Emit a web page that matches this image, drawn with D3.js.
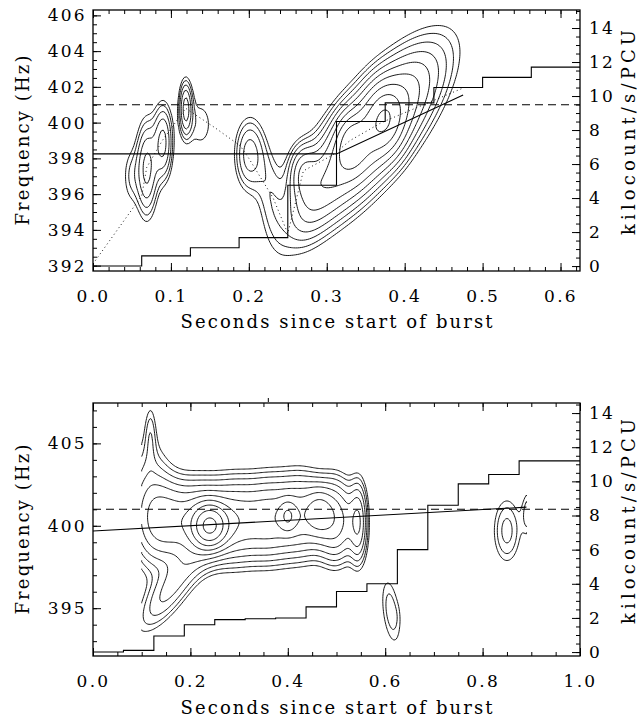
<!DOCTYPE html>
<html><head><meta charset="utf-8">
<script src="https://cdn.jsdelivr.net/npm/d3@7"></script>
<style>
body{margin:0;background:#fff}
text{font-family:"DejaVu Serif",serif;fill:#000}
</style>
</head><body>
<svg id="c" width="640" height="723"></svg>
<script>
// ---------------- DATA ----------------
const binWidth = 0.0625;
const contourLevels = [1, 1.41, 2, 2.83, 4, 5.66, 8, 11.3, 16, 22.6, 32];
const spinFreq = 401;

// top panel: count rate (kilocount/s/PCU) per 1/16 s bin
const topRate = [0, 0.6, 1.08, 1.67, 4.75, 8.5, 9.6, 10.5, 11.1, 11.7];
// frequency model (solid)
const topModelT = [0, 0.3125, 0.475];
const topModelF = [398.25, 398.25, 401.55];
// peak track (dotted)
const topTrackT = [0.0, 0.0625, 0.069, 0.089, 0.119, 0.157, 0.189, 0.2, 0.231, 0.25, 0.27, 0.308, 0.33, 0.37, 0.473];
const topTrackF = [392.1, 395.9, 397.5, 399.0, 400.8, 399.7, 398.7, 398.0, 395.8, 393.8, 397.3, 398.2, 399.0, 400.0, 401.9];
// power contour components (centre time, centre freq, width in t, width in f, drift Hz/s, strength)
const topCompT     = [0.069, 0.090, 0.048, 0.119, 0.138, 0.200, 0.226, 0.355, 0.270, 0.330, 0.375, 0.285];
const topCompF     = [397.4, 398.9, 397.0, 400.8, 399.9, 398.2, 396.3, 399.3, 397.2, 398.9, 400.2, 395.6];
const topCompSt    = [0.009, 0.008, 0.008, 0.0055, 0.014, 0.012, 0.014, 0.052, 0.012, 0.012, 0.015, 0.022];
const topCompSf    = [1.7, 1.35, 1.2, 1.0, 1.2, 1.3, 1.8, 1.8, 1.0, 1.0, 1.2, 1.3];
const topCompSlope = [0, 0, 0, 0, 0, 0, -60, 40, 0, 0, 0, 40];
const topCompAmp   = [4.4, 4.4, 1.3, 4.5, 1.3, 3.2, 1.6, 12, 4, 5, 6, 2];

// bottom panel
const botRate = [0, 0.1, 0.94, 1.6, 1.9, 1.95, 2.0, 2.65, 3.55, 4.0, 6.0, 8.6, 9.85, 10.4, 11.2, 11.2];
const botModelT = [0, 0.89];
const botModelF = [399.68, 401.13];
const botCompT     = [0.150, 0.220, 0.290, 0.360, 0.430, 0.500, 0.545, 0.240, 0.400, 0.465, 0.115, 0.118, 0.160, 0.612, 0.627, 0.850, 0.895];
const botCompF     = [400.3, 400.2, 400.3, 400.4, 400.6, 400.3, 400.2, 400.0, 400.6, 400.8, 401.5, 405.6, 396.2, 394.8, 394.6, 399.7, 400.8];
const botCompSt    = [0.035, 0.035, 0.035, 0.035, 0.035, 0.025, 0.012, 0.022, 0.012, 0.018, 0.028, 0.008, 0.045, 0.016, 0.006, 0.020, 0.010];
const botCompSf    = [1.55, 1.55, 1.55, 1.55, 1.55, 1.55, 1.55, 0.8, 0.6, 0.9, 2.6, 1.3, 1.1, 1.5, 0.6, 1.4, 1.0];
const botCompSlope = [0, 0, 0, 0, 0, 0, 0, 0, 0, 0, 0, 0, 30, -40, 0, 0, 0];
const botCompAmp   = [6, 6, 6, 6, 6, 6, 5, 18, 5, 5, 2.5, 1.3, 3, 1.75, 0.15, 2.3, 1.8];

// ---------------- DRAW ----------------
const svg = d3.select("#c");

function comps(T, F, St, Sf, Sl, A) {
  return T.map((t, i) => ({t, f: F[i], st: St[i], sf: Sf[i], slope: Sl[i], amp: A[i]}));
}

function ringToLines(ring, nx, ny) {
  const same = (a, b) => (a[0] <= 0 && b[0] <= 0) || (a[0] >= nx && b[0] >= nx) ||
                         (a[1] <= 0 && b[1] <= 0) || (a[1] >= ny && b[1] >= ny);
  const n = ring.length - 1;
  const segB = [];
  for (let i = 0; i < n; i++) segB.push(same(ring[i], ring[i + 1]));
  if (!segB.some(Boolean)) return [ring];
  const s = segB.findIndex(Boolean);
  const lines = []; let cur = null;
  for (let k = 1; k <= n; k++) {
    const i = (s + k) % n;
    if (segB[i]) { if (cur && cur.length > 1) lines.push(cur); cur = null; }
    else { if (!cur) cur = [ring[i]]; cur.push(ring[i + 1]); }
  }
  if (cur && cur.length > 1) lines.push(cur);
  return lines;
}

function panel(cfg) {
  const {left, right, top, bottom} = cfg.box;
  const g = svg.append("g");
  const x = d3.scaleLinear().domain(cfg.xDomain).range([left, right]);
  const y = d3.scaleLinear().domain(cfg.yDomain).range([bottom, top]);
  const y2 = d3.scaleLinear().domain(cfg.y2Domain).range([bottom, top]);

  const clipId = "clip" + cfg.id;
  svg.append("clipPath").attr("id", clipId).append("rect")
    .attr("x", left).attr("y", top).attr("width", right - left).attr("height", bottom - top);
  const plot = g.append("g").attr("clip-path", `url(#${clipId})`);

  // contour field
  const gr = cfg.grid;
  const nx = Math.round((gr.t1 - gr.t0) / gr.dt) + 1;
  const ny = Math.round((gr.f1 - gr.f0) / gr.df) + 1;
  const values = new Float64Array(nx * ny);
  for (let j = 0; j < ny; j++) {
    const f = gr.f0 + j * gr.df;
    for (let i = 0; i < nx; i++) {
      const t = gr.t0 + i * gr.dt;
      let s = 0;
      for (const c of cfg.comps) {
        const u = (t - c.t) / c.st;
        const v = (f - c.f - c.slope * (t - c.t)) / c.sf;
        s += c.amp * Math.exp(-0.5 * (u * u + v * v));
      }
      values[i + j * nx] = s;
    }
  }
  const cont = d3.contours().size([nx, ny]).thresholds(cfg.levels)(values);
  const toT = gx => gr.t0 + (Math.max(0.5, Math.min(nx - 0.5, gx)) - 0.5) * gr.dt;
  const toF = gy => gr.f0 + (Math.max(0.5, Math.min(ny - 0.5, gy)) - 0.5) * gr.df;
  const cline = d3.line().x(p => x(toT(p[0]))).y(p => y(toF(p[1])));
  const paths = [];
  cont.forEach(mp => mp.coordinates.forEach(poly => poly.forEach(ring => {
    ringToLines(ring, nx, ny).forEach(l => paths.push(l));
  })));
  plot.selectAll("path.ct").data(paths).join("path").attr("class", "ct")
    .attr("d", cline).attr("fill", "none").attr("stroke", "#000").attr("stroke-width", 0.9);

  // step count rate
  const stepPts = cfg.rate.map((r, i) => [i * binWidth, r]);
  stepPts.push([cfg.rate.length * binWidth, cfg.rate[cfg.rate.length - 1]]);
  plot.append("path").datum(stepPts)
    .attr("d", d3.line().curve(d3.curveStepAfter).x(d => x(d[0])).y(d => y2(d[1])))
    .attr("fill", "none").attr("stroke", "#000").attr("stroke-width", 1.1);

  // spin frequency dashed
  plot.append("path").datum(cfg.xDomain)
    .attr("d", d3.line().x(d => x(d)).y(() => y(spinFreq)))
    .attr("fill", "none").attr("stroke", "#000").attr("stroke-width", 1.1).attr("stroke-dasharray", "8,5");

  // model solid
  plot.append("path").datum(cfg.modelT.map((t, i) => [t, cfg.modelF[i]]))
    .attr("d", d3.line().x(d => x(d[0])).y(d => y(d[1])))
    .attr("fill", "none").attr("stroke", "#000").attr("stroke-width", 1.1);

  if (cfg.trackT) {
    plot.append("path").datum(cfg.trackT.map((t, i) => [t, cfg.trackF[i]]))
      .attr("d", d3.line().x(d => x(d[0])).y(d => y(d[1])))
      .attr("fill", "none").attr("stroke", "#000").attr("stroke-width", 0.9).attr("stroke-dasharray", "1,3");
  }

  // frame
  g.append("rect").attr("x", left).attr("y", top).attr("width", right - left).attr("height", bottom - top)
    .attr("fill", "none").attr("stroke", "#000").attr("stroke-width", 1.3);

  const MAJ = 8, MIN = 4;
  function axis(gen, scale, pos, major, minor, fmt, labels, pad) {
    const a = gen(scale).tickValues(major).tickSize(-MAJ).tickPadding(pad)
      .tickFormat(labels ? fmt : () => "");
    const ga = g.append("g").attr("transform", pos).call(a);
    ga.select(".domain").remove();
    ga.selectAll("text").style("font-size", "17px").style("font-family", "DejaVu Serif")
      .style("letter-spacing", "2.3px");
    ga.selectAll("line").attr("stroke-width", 1);
    const b = gen(scale).tickValues(minor).tickSize(-MIN).tickFormat(() => "");
    const gb = g.append("g").attr("transform", pos).call(b);
    gb.select(".domain").remove();
    gb.selectAll("line").attr("stroke-width", 1);
    return ga;
  }
  axis(d3.axisBottom, x, `translate(0,${bottom})`, cfg.xMajor, cfg.xMinor, cfg.xFmt, true, 19);
  axis(d3.axisTop, x, `translate(0,${top})`, cfg.xMajor, cfg.xMinor, cfg.xFmt, false, 0);
  axis(d3.axisLeft, y, `translate(${left},0)`, cfg.yMajor, cfg.yMinor, d3.format("d"), true, 6);
  axis(d3.axisRight, y2, `translate(${right},0)`, cfg.y2Major, cfg.y2Minor, d3.format("d"), true, 9);

  g.append("text").attr("x", (left + right) / 2).attr("y", cfg.titleY).attr("text-anchor", "middle")
    .attr("textLength", 312).attr("lengthAdjust", "spacing")
    .style("font-size", "18px").text("Seconds since start of burst");
  g.append("text").attr("transform", `translate(29,${(top + bottom) / 2}) rotate(-90)`).attr("text-anchor", "middle")
    .attr("textLength", 170).attr("lengthAdjust", "spacing")
    .style("font-size", "18px").text("Frequency (Hz)");
  g.append("text").attr("transform", `translate(635,${(top + bottom) / 2 - 8}) rotate(-90)`).attr("text-anchor", "middle")
    .attr("textLength", 205).attr("lengthAdjust", "spacing")
    .style("font-size", "18px").text("kilocount/s/PCU");
  return {x, y, g};
}

const r = (a, b, s) => d3.range(Math.round((b - a) / s) + 1).map(i => +(a + i * s).toFixed(4));

panel({
  id: "top",
  box: {left: 93, right: 580, top: 10, bottom: 271},
  xDomain: [0, 0.625], yDomain: [391.7, 406.3], y2Domain: [-0.29, 15.06],
  xMajor: r(0, 0.6, 0.1), xMinor: r(0, 0.62, 0.02), xFmt: d3.format(".1f"),
  yMajor: r(392, 406, 2), yMinor: r(392, 406, 0.5),
  y2Major: r(0, 14, 2), y2Minor: r(0, 15, 0.5),
  titleY: 328,
  rate: topRate, modelT: topModelT, modelF: topModelF, trackT: topTrackT, trackF: topTrackF,
  comps: comps(topCompT, topCompF, topCompSt, topCompSf, topCompSlope, topCompAmp),
  grid: {t0: 0.02, t1: 0.52, dt: 0.0025, f0: 391.7, f1: 406.3, df: 0.1},
  levels: contourLevels
});

const bot = panel({
  id: "bot",
  box: {left: 93, right: 580, top: 403, bottom: 656},
  xDomain: [0, 1], yDomain: [392.1, 407.45], y2Domain: [-0.23, 14.59],
  xMajor: r(0, 1, 0.2), xMinor: r(0, 1, 0.05), xFmt: d3.format(".1f"),
  yMajor: [395, 400, 405], yMinor: r(393, 407, 1),
  y2Major: r(0, 14, 2), y2Minor: r(0, 14.5, 0.5),
  titleY: 714,
  rate: botRate, modelT: botModelT, modelF: botModelF,
  comps: comps(botCompT, botCompF, botCompSt, botCompSf, botCompSlope, botCompAmp),
  grid: {t0: 0.1, t1: 0.89, dt: 0.0025, f0: 392.1, f1: 407.45, df: 0.1},
  levels: contourLevels
});
// small stray mark above the lower frame
bot.g.append("line").attr("x1", bot.x(0.36)).attr("x2", bot.x(0.36))
  .attr("y1", 398).attr("y2", 402).attr("stroke", "#000").attr("stroke-width", 1);
</script>
</body></html>
